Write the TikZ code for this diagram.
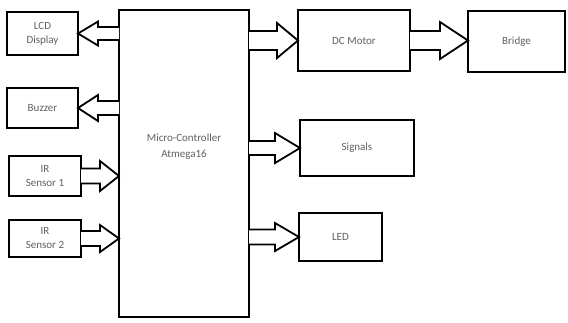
\documentclass[tikz,border=0pt]{standalone}
\usepackage{fontspec}
\setmainfont{Carlito}
\usetikzlibrary{calc}
\newcommand{\blockarrow}[5]{%
  \draw[arr] let \p1=(#1), \p2=(#2), \p3=($(#2)!#5pt!(#1)$) in
    (\x1,\y1+#3pt) -- (\x3,\y1+#3pt) -- (\x3,\y1+#4pt) -- (\x2,\y2)
    -- (\x3,\y1-#4pt) -- (\x3,\y1-#3pt) -- (\x1,\y1-#3pt);}
\tikzset{
  box/.style={draw=black, line width=2.2pt, rectangle, inner sep=0pt, outer sep=0pt,
              align=center, text=black!62, font=\fontsize{11}{14}\selectfont},
  lbl/.style={text=black!62, align=center, font=\fontsize{11}{16}\selectfont},
  arr/.style={draw=black, line width=1.8pt, fill=white}
}
\begin{document}
\begin{tikzpicture}[x=1pt,y=-1pt]
\useasboundingbox[fill=white] (0,0) rectangle (568,322);
% boxes
\node[box, minimum width=71, minimum height=43] (lcd) at (42.5,33.5) {LCD\\Display};
\node[box, minimum width=71, minimum height=40] (buzzer) at (42.5,108) {Buzzer};
\node[box, minimum width=72, minimum height=40] (ir1) at (45,176) {IR\\Sensor 1};
\node[box, minimum width=72, minimum height=37] (ir2) at (45,238.5) {IR\\Sensor 2};
\node[box, minimum width=130, minimum height=307] (mc) at (184,163.5) {};
\node[lbl] (mctext) at (184,147) {Micro-Controller\\Atmega16};
\node[box, minimum width=112, minimum height=61] (dc) at (354,40.5) {DC Motor};
\node[box, minimum width=97, minimum height=61] (bridge) at (516.5,41.5) {Bridge};
\node[box, minimum width=114, minimum height=56] (signals) at (357,148) {Signals};
\node[box, minimum width=83, minimum height=48] (led) at (340.5,237) {LED};
% block arrows
\blockarrow{mc.west |- lcd.east}{lcd.east}{6.5}{12}{20}
\blockarrow{mc.west |- buzzer.east}{buzzer.east}{7}{13}{20}
\blockarrow{ir1.east}{mc.west |- ir1.east}{7.5}{15}{19}
\blockarrow{ir2.east}{mc.west |- ir2.east}{7.5}{13.5}{19}
\blockarrow{mc.east |- dc.west}{dc.west}{9.5}{17.5}{21}
\blockarrow{mc.east |- signals.west}{signals.west}{7}{15}{25}
\blockarrow{mc.east |- led.west}{led.west}{7.5}{14}{24}
\blockarrow{dc.east}{bridge.west |- dc.east}{9.5}{18.5}{28}
\end{tikzpicture}
\end{document}
